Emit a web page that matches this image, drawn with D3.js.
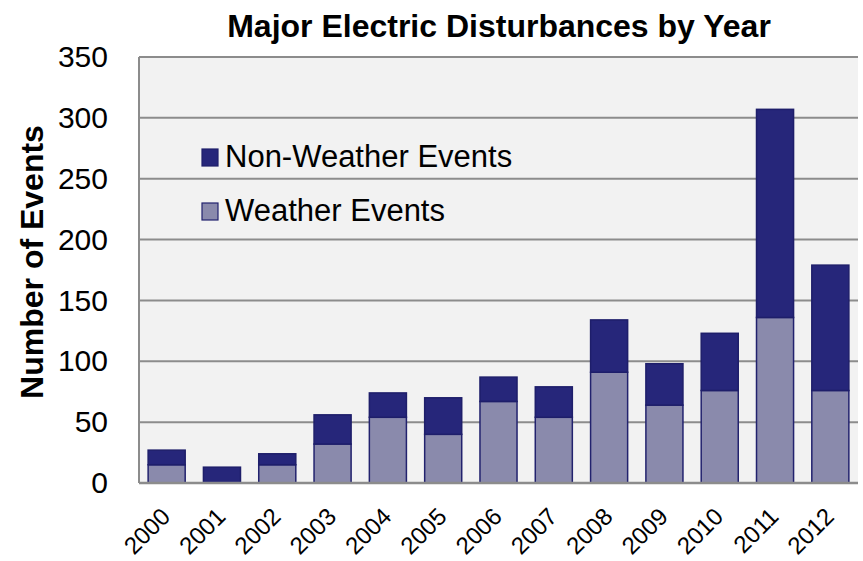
<!DOCTYPE html>
<html><head><meta charset="utf-8">
<script src="https://cdn.jsdelivr.net/npm/d3@7"></script>
<style>body{margin:0;background:#fff}text{font-family:"Liberation Sans",Arial,sans-serif}</style>
</head><body><svg id="c" width="863" height="561"></svg>
<script>
const years = ["2000","2001","2002","2003","2004","2005","2006","2007","2008","2009","2010","2011","2012"];
const weather = [15,0,15,32,54,40,67,54,91,64,76,136,76];
const nonWeather = [12,13,9,24,20,30,20,25,43,34,47,171,103];
const yTicks = [0,50,100,150,200,250,300,350];
const seriesNames = ["Non-Weather Events","Weather Events"];

const svg = d3.select("#c");
const L=139, R=858, T=57, B=483;
const x = d3.scaleBand().domain(years).range([L,R]).paddingInner(0.33).paddingOuter(0.165);
const y = d3.scaleLinear().domain([0,350]).range([B,T]);

svg.append("rect").attr("x",L).attr("y",T).attr("width",R-L).attr("height",B-T).attr("fill","#f2f2f2");
svg.append("g").selectAll("line").data(yTicks.filter(d=>d>0)).join("line")
  .attr("x1",L).attr("x2",R).attr("y1",d=>y(d)).attr("y2",d=>y(d))
  .attr("stroke","#8c8c8c").attr("stroke-width",2);

const data = years.map((yr,i)=>({yr,w:weather[i],n:nonWeather[i]}));
const g = svg.append("g");
g.selectAll("rect.w").data(data).join("rect").attr("class","w")
  .attr("x",d=>x(d.yr)).attr("width",x.bandwidth())
  .attr("y",d=>y(d.w)).attr("height",d=>y(0)-y(d.w))
  .attr("fill","#8a8aac").attr("stroke","#22226e").attr("stroke-width",1.5);
g.selectAll("rect.n").data(data).join("rect").attr("class","n")
  .attr("x",d=>x(d.yr)).attr("width",x.bandwidth())
  .attr("y",d=>y(d.w+d.n)).attr("height",d=>y(d.w)-y(d.w+d.n))
  .attr("fill","#26267a").attr("stroke","#1e1e6a").attr("stroke-width",1.5);

svg.append("line").attr("x1",L).attr("x2",L).attr("y1",T).attr("y2",B).attr("stroke","#8c8c8c").attr("stroke-width",2);
svg.append("line").attr("x1",L).attr("x2",R).attr("y1",B).attr("y2",B).attr("stroke","#8c8c8c").attr("stroke-width",2.5);

const yAxis = svg.append("g").attr("transform",`translate(${L},0)`)
  .call(d3.axisLeft(y).tickValues(yTicks).tickSize(0).tickPadding(31));
yAxis.select(".domain").remove();
yAxis.selectAll("text").attr("font-size",30).attr("fill","#000").attr("font-family","Liberation Sans, Arial, sans-serif");

const xAxis = svg.append("g").attr("transform",`translate(0,${B})`)
  .call(d3.axisBottom(x).tickSize(0));
xAxis.select(".domain").remove();
xAxis.selectAll("text").attr("font-size",24).attr("fill","#000").attr("font-family","Liberation Sans, Arial, sans-serif")
  .attr("text-anchor","end").attr("dy",0).attr("y",0)
  .attr("transform","translate(5,35) rotate(-45)");

svg.append("text").attr("x",499).attr("y",37).attr("text-anchor","middle")
  .attr("font-size",32).attr("font-weight","bold").text("Major Electric Disturbances by Year");
svg.append("text").attr("transform","translate(43,262) rotate(-90)").attr("text-anchor","middle")
  .attr("font-size",32).attr("font-weight","bold").text("Number of Events");

const legColors = [["#26267a","#1e1e6a"],["#8a8aac","#22226e"]];
const leg = svg.append("g");
seriesNames.forEach((s,i)=>{
  const yy = 149 + i*54;
  leg.append("rect").attr("x",202).attr("y",yy).attr("width",16).attr("height",17)
    .attr("fill",legColors[i][0]).attr("stroke",legColors[i][1]).attr("stroke-width",1.2);
  leg.append("text").attr("x",225).attr("y",yy+18).attr("font-size",31).text(s);
});
</script></body></html>
